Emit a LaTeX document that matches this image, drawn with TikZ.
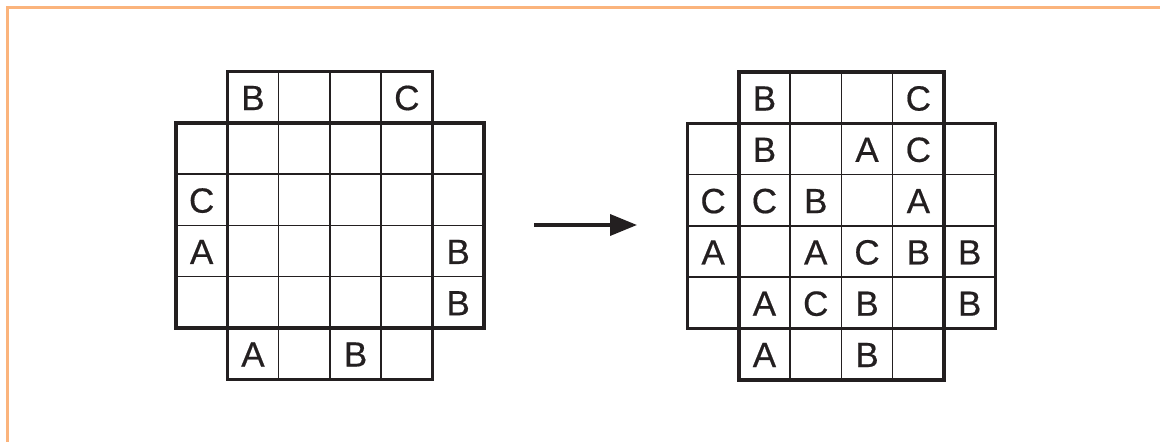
\documentclass[tikz,border=0pt]{standalone}
\usepackage{fontspec}
\setmainfont{Liberation Sans}
\newfontfamily\letterfont[FakeBold=0.5]{Liberation Sans}
\usetikzlibrary{arrows.meta,calc}
\definecolor{ink}{HTML}{231F20}
\definecolor{frame}{HTML}{FBB47C}
\begin{document}
\begin{tikzpicture}[x=1pt,y=-1pt,
  thinline/.style={draw=ink,line width=1.5pt},
  thickline/.style={draw=ink,line width=3.4pt,line cap=rect},
  letter/.style={inner sep=0pt,font=\letterfont\fontsize{35}{42}\selectfont,text=ink},
  pointer/.style={draw=ink,line width=3.6pt,-{Triangle[length=27pt,width=21pt]}}]
\useasboundingbox (0,0) rectangle (1160,442);
\draw[frame,line width=3pt] (7.5,442) -- (7.5,7) -- (1160,7);
% grids
\foreach \gx/\gy/\gn in {176/71.5/L,687.5/72/R}{
  \begin{scope}[shift={(\gx,\gy)},x=51.3pt,y=-51.3pt]
    \foreach \i in {2,3,4}{
      \draw[thinline] (\i,0) -- (\i,6);
      \draw[thinline] (0,\i) -- (6,\i);
    }
    \draw[thickline] (1,0) -- (1,6);
    \draw[thickline] (5,0) -- (5,6);
    \draw[thickline] (0,1) -- (6,1);
    \draw[thickline] (0,5) -- (6,5);
    \draw[thickline,line join=miter] (1,0) -- (5,0) -- (5,1) -- (6,1) -- (6,5) -- (5,5) -- (5,6) -- (1,6) -- (1,5) -- (0,5) -- (0,1) -- (1,1) -- cycle;
    \coordinate (\gn-grid) at (0,0);
  \end{scope}
}
% letters
\foreach \r/\c/\t in {0/1/B,0/4/C,2/0/C,3/0/A,3/5/B,4/5/B,5/1/A,5/3/B}{
  \node[letter] (L-\r-\c) at ($(176,71.5)+(\c*51.3+25.65,\r*51.3+26.5)$) {\t};
}
\foreach \r/\c/\t in {0/1/B,0/4/C,1/1/B,1/3/A,1/4/C,2/0/C,2/1/C,2/2/B,2/4/A,3/0/A,3/2/A,3/3/C,3/4/B,3/5/B,4/1/A,4/2/C,4/3/B,4/5/B,5/1/A,5/3/B}{
  \node[letter] (R-\r-\c) at ($(687.5,72)+(\c*51.3+25.65,\r*51.3+26.5)$) {\t};
}
\coordinate (arrowstart) at (534,225);
\coordinate (arrowend) at (637,225);
\draw[pointer] (arrowstart) -- (arrowend);
\end{tikzpicture}
\end{document}
